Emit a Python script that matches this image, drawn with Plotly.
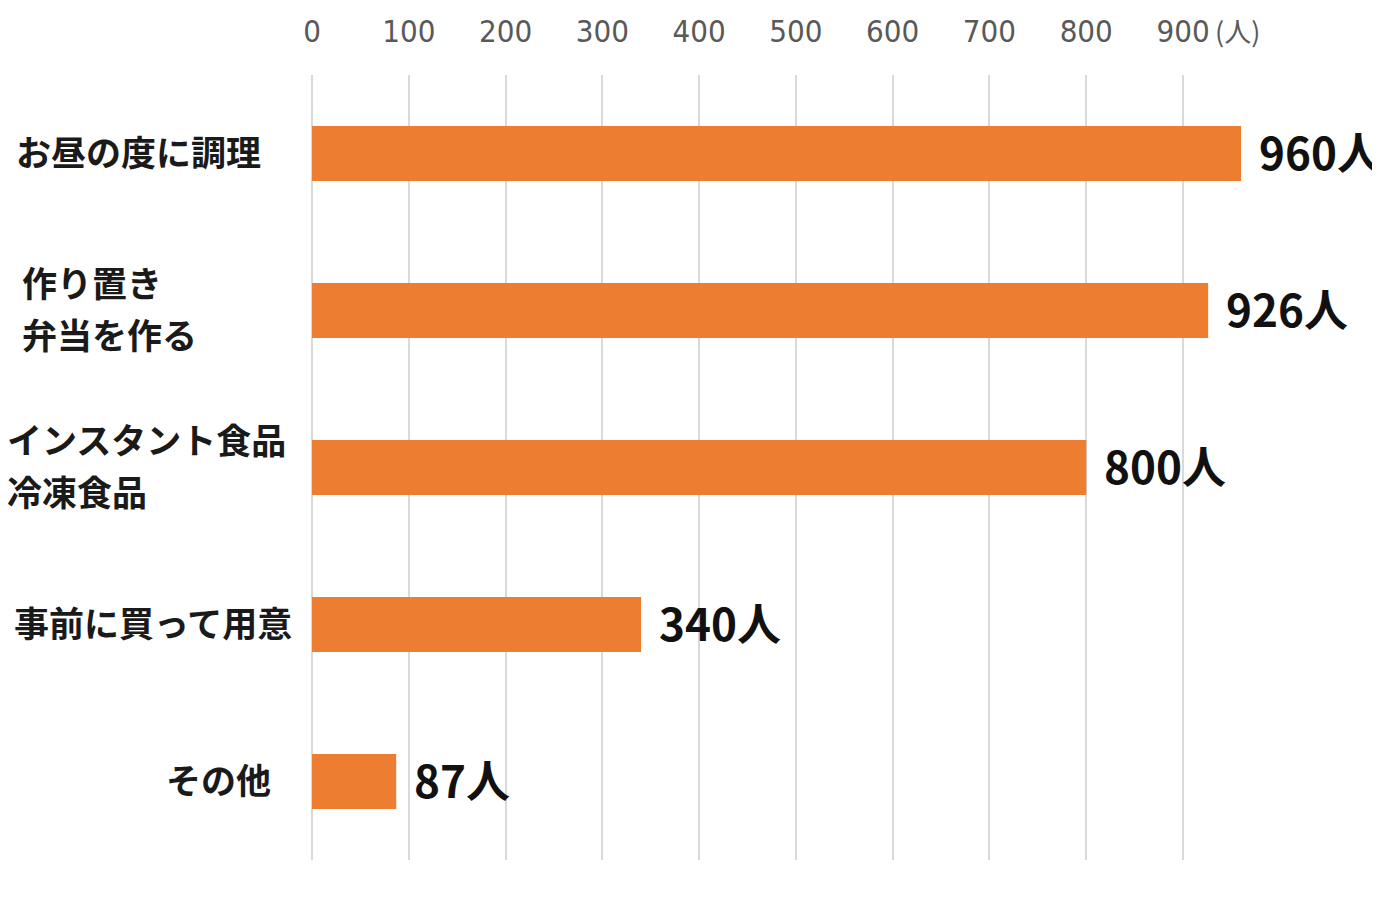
import plotly.graph_objects as go

# 回答カテゴリと人数
categories = ["お昼の度に調理", "作り置き<br>弁当を作る", "インスタント食品<br>冷凍食品", "事前に買って用意", "その他"]
values = [960, 926, 800, 340, 87]
tick_values = [0, 100, 200, 300, 400, 500, 600, 700, 800, 900]
tick_labels = ["0", "100", "200", "300", "400", "500", "600", "700", "800", "900"]
unit = "人"

BAR_COLOR = "#ED7D31"
JP_FONT = "Noto Sans CJK JP, Noto Sans, sans-serif"
NUM_FONT = "Liberation Sans Narrow, DejaVu Sans Condensed, Noto Sans CJK JP, sans-serif"

# ページ本体の既定余白 (8px) を差し引いておく
BODY = 8
W, H = 1380, 919
ML, MR, MT, MB = 312 - BODY, 0, 75 - BODY, 67
plot_w = W - ML - MR

fig = go.Figure()
fig.add_trace(go.Bar(
    x=values, y=categories, orientation="h",
    marker=dict(color=BAR_COLOR, line=dict(width=0)),
    hoverinfo="skip",
))

annotations = []
# 値ラベル
for c, v in zip(categories, values):
    annotations.append(dict(
        x=v, y=c, xref="x", yref="y", text=f"<b>{v}{unit}</b>",
        showarrow=False, xanchor="left", yanchor="middle", xshift=16, yshift=3,
        font=dict(family=JP_FONT, size=44, color="#111111"),
    ))

# カテゴリラベル（左寄せ、その他は右寄せ）
label_left = [14, 20, 5, 12, None]
for c, lx in zip(categories, label_left):
    lines = c.split("<br>")
    n = len(lines)
    for i, line in enumerate(lines):
        yshift = (n - 1) * 26 - i * 52 + 3
        if lx is None:
            ax = dict(x=-(ML + BODY - 273) / plot_w, xanchor="right")
        else:
            ax = dict(x=-(ML + BODY - lx) / plot_w, xanchor="left")
        annotations.append(dict(
            y=c, xref="paper", yref="y", text=f"<b>{line}</b>",
            showarrow=False, yanchor="middle", yshift=yshift,
            font=dict(family=JP_FONT, size=35, color="#1a1a1a"),
            **ax,
        ))

# 単位
annotations.append(dict(
    x=tick_values[-1], y=1, xref="x", yref="paper", text=f"({unit})",
    showarrow=False, xanchor="left", yanchor="middle", xshift=30, yshift=45,
    font=dict(family=JP_FONT, size=27, color="#595959"),
))

fig.update_layout(
    width=W, height=H,
    margin=dict(l=ML, r=MR, t=MT, b=MB, autoexpand=False),
    paper_bgcolor="white", plot_bgcolor="white",
    bargap=0.65, showlegend=False,
    annotations=annotations,
)
fig.update_xaxes(
    side="top", range=[0, plot_w / 0.9678], automargin=False,
    tickvals=tick_values, ticktext=tick_labels,
    tickfont=dict(family=NUM_FONT, size=31, color="#595959"),
    ticklabelstandoff=26,
    showgrid=True, gridcolor="#D9D9D9", gridwidth=2,
    zeroline=True, zerolinecolor="#D9D9D9", zerolinewidth=2,
    showline=False, ticks="",
)
fig.update_yaxes(
    autorange="reversed", showticklabels=False, automargin=False,
    showgrid=False, zeroline=False, showline=False,
)

fig.write_html("out.html")
